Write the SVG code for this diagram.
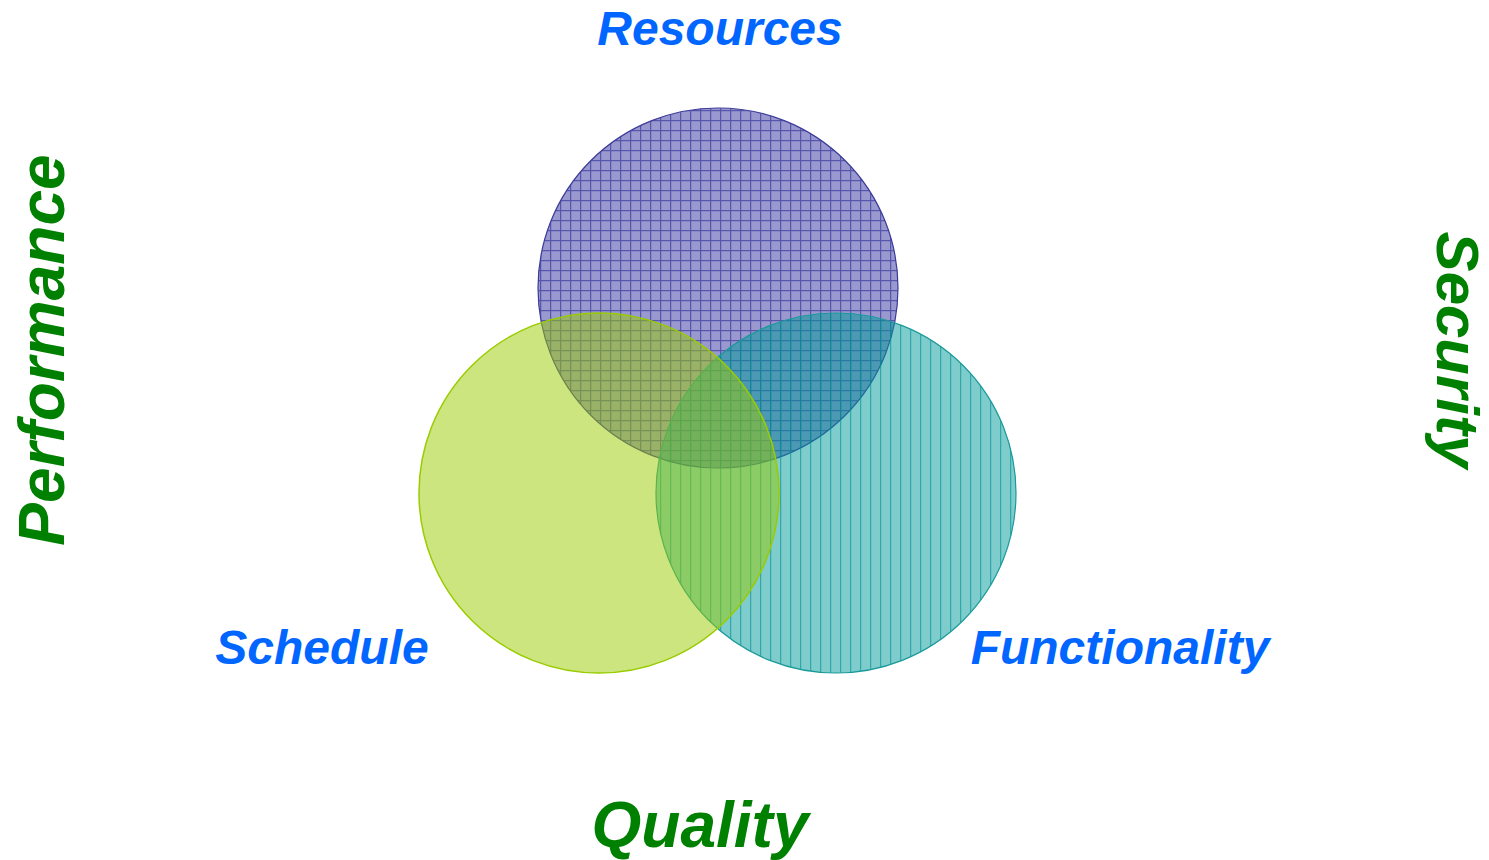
<svg xmlns="http://www.w3.org/2000/svg" width="1489" height="860" viewBox="0 0 1489 860">
<style>
  .lbl { font-family: "Liberation Sans", Arial, sans-serif; font-weight: bold; font-style: italic; }
  .blue { fill: #0066ff; font-size: 48px; }
  .green { fill: #008000; }
</style>
<defs>
  <pattern id="gridP" patternUnits="userSpaceOnUse" width="10" height="10" x="0" y="0">
    <rect width="10" height="10" fill="#3333a0" fill-opacity="0.5"/>
    <path d="M0 0.5H10M0.5 0V10" stroke="#2a2a96" stroke-opacity="0.6" stroke-width="1.5"/>
  </pattern>
  <pattern id="vertP" patternUnits="userSpaceOnUse" width="10" height="10" x="0" y="0">
    <rect width="10" height="10" fill="#009999" fill-opacity="0.5"/>
    <path d="M0.5 0V10" stroke="#009090" stroke-opacity="0.6" stroke-width="1.5"/>
  </pattern>
</defs>
<rect width="1489" height="860" fill="#ffffff"/>
<g id="resources-circle">
  <circle cx="718" cy="288" r="180" fill="url(#gridP)" stroke="#3a3a9a" stroke-width="1.2"/>
</g>
<g id="functionality-circle">
  <circle cx="836" cy="493" r="180" fill="url(#vertP)" stroke="#1a9a9a" stroke-width="1.2"/>
</g>
<g id="schedule-circle">
  <circle cx="599" cy="493" r="180" fill="#99cc00" fill-opacity="0.5" stroke="#99cc00" stroke-width="1.5"/>
</g>
<g id="connectors"></g>
<g id="resources-label"><text class="lbl blue" x="720" y="45" text-anchor="middle">Resources</text></g>
<g id="schedule-label"><text class="lbl blue" x="322" y="664" text-anchor="middle">Schedule</text></g>
<g id="functionality-label"><text class="lbl blue" x="1120" y="664" text-anchor="middle">Functionality</text></g>
<g id="quality-label"><text class="lbl green" font-size="64" x="700" y="847" text-anchor="middle">Quality</text></g>
<g id="performance-label"><text class="lbl green" font-size="64" transform="translate(64 350) rotate(-90)" text-anchor="middle">Performance</text></g>
<g id="security-label"><text class="lbl green" font-size="60" transform="translate(1437 350) rotate(90)" text-anchor="middle">Security</text></g>
</svg>
